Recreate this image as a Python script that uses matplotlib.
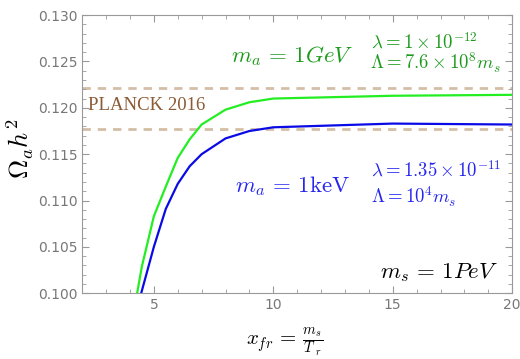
import numpy as np
import matplotlib
matplotlib.use("Agg")
import matplotlib.pyplot as plt
from matplotlib.ticker import MultipleLocator

plt.rcParams['mathtext.fontset'] = 'cm'

# values
x_gev = [4.3, 4.5, 5, 5.5, 6, 6.5, 7, 8, 9, 10, 15, 20]
y_gev = [0.1000, 0.1029, 0.1083, 0.1115, 0.1146, 0.1166, 0.1182, 0.1198, 0.1206, 0.1210, 0.1213, 0.1214]
x_kev = [4.47, 5, 5.5, 6, 6.5, 7, 8, 9, 10, 15, 20]
y_kev = [0.1000, 0.1050, 0.1091, 0.1118, 0.1137, 0.1150, 0.1167, 0.1175, 0.1179, 0.1183, 0.1182]
planck_lo = 0.1177
planck_hi = 0.1221

fig = plt.figure(figsize=(5.2, 3.59), dpi=100)
ax = fig.add_axes([0.158, 0.183, 0.827, 0.775])

ax.axhline(planck_hi, color='#d4bea6', lw=2, ls=(0, (3, 2.5)), zorder=1)
ax.axhline(planck_lo, color='#d4bea6', lw=2, ls=(0, (3, 2.5)), zorder=1)
ax.plot(x_gev, y_gev, color='#22ee22', lw=1.6, zorder=3)
ax.plot(x_kev, y_kev, color='#0a0ae6', lw=1.6, zorder=3)

ax.set_xlim(2, 20)
ax.set_ylim(0.100, 0.130)
ax.xaxis.set_major_locator(MultipleLocator(5))
ax.xaxis.set_minor_locator(MultipleLocator(1))
ax.yaxis.set_major_locator(MultipleLocator(0.005))
ax.yaxis.set_minor_locator(MultipleLocator(0.001))
ax.yaxis.set_major_formatter(matplotlib.ticker.FormatStrFormatter('%.3f'))
ax.tick_params(which='both', direction='in', top=True, right=True, color='#999999',
               labelcolor='#777777', labelsize=10)
ax.tick_params(which='major', length=5)
ax.tick_params(which='minor', length=3)
for s in ax.spines.values():
    s.set_color('#999999')

ax.text(2.25, 0.1202, 'PLANCK 2016', color='#8c5a34', fontsize=13.5,
        family='Liberation Serif', va='center', ha='left')

green = '#1c9a1c'
ax.text(10.8, 0.1256, r'$m_a\,=\,1GeV$', color=green, fontsize=16.5, ha='center', va='center')
ax.text(14.1, 0.1270, r'$\lambda = 1\times10^{-12}$', color=green, fontsize=13.5, ha='left', va='center')
ax.text(14.05, 0.1248, r'$\Lambda = 7.6\times10^{8}m_s$', color=green, fontsize=13.5, ha='left', va='center')

blue = '#2626ee'
ax.text(10.8, 0.1116, r'$m_a\,=\,1\mathrm{keV}$', color=blue, fontsize=16.5, ha='center', va='center')
ax.text(14.1, 0.1132, r'$\lambda = 1.35\times10^{-11}$', color=blue, fontsize=13.5, ha='left', va='center')
ax.text(14.1, 0.1104, r'$\Lambda = 10^{4}m_s$', color=blue, fontsize=13.5, ha='left', va='center')

ax.text(19.4, 0.1022, r'$m_s\,=\,1PeV$', color='black', fontsize=16.5, ha='right', va='center')

fig.text(0.04, 0.585, r'$\Omega_a h^2$', fontsize=19, rotation=90, ha='center', va='center')
fig.text(0.548, 0.048, r'$x_{fr}\,=\,\frac{m_s}{T_{\ r}}$', fontsize=15, ha='center', va='center')

fig.savefig('out.png', dpi=100)
